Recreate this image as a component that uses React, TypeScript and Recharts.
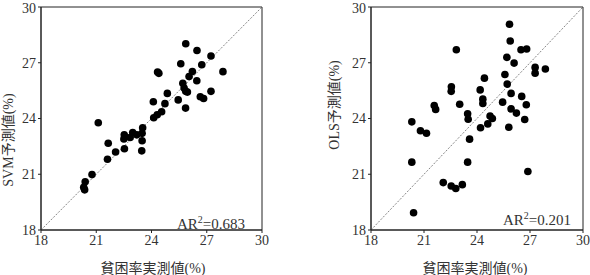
import { ScatterChart, Scatter, XAxis, YAxis, ReferenceLine, ReferenceArea } from 'recharts';

// 実測値 (x) / 予測値 (y)
const svmActual = [
  20.32, 20.37, 20.4, 20.77, 21.11, 21.65, 21.61, 22.05, 22.53, 22.52, 22.5, 22.84, 22.98, 23.2, 23.49,
  23.52, 23.49, 23.47, 24.12, 24.31, 24.55, 24.1, 24.73, 24.86, 24.33, 24.4, 25.45, 25.59, 25.86, 25.7,
  25.77, 25.86, 25.95, 25.85, 26.04, 26.22, 26.46, 26.47, 26.73, 26.65, 26.83, 27.23, 27.23, 27.88,
];
const svmPredicted = [
  20.3, 20.16, 20.6, 20.98, 23.77, 22.67, 21.81, 22.2, 22.37, 23.12, 22.9, 22.98, 23.25, 23.12, 23.2,
  23.5, 22.8, 22.26, 24.04, 24.2, 24.36, 24.9, 24.8, 25.35, 26.5, 26.43, 25.0, 26.95, 28.02, 25.9,
  25.64, 25.46, 25.42, 24.56, 26.26, 26.53, 26.03, 27.66, 26.89, 25.17, 25.08, 27.36, 25.46, 26.52,
];

const olsActual = [
  20.31, 20.31, 20.41, 20.8, 21.14, 21.58, 21.66, 22.09, 22.54, 22.8, 23.17, 22.55, 22.54, 22.83, 23.02,
  23.47, 23.5, 23.58, 23.47, 24.18, 24.33, 24.33, 24.42, 24.2, 24.61, 24.74, 24.87, 25.45, 25.58, 25.69,
  25.71, 25.84, 25.88, 25.93, 25.93, 25.8, 26.1, 26.23, 26.49, 26.81, 26.53, 26.79, 26.7, 26.88, 27.29,
  27.29, 27.87,
];
const olsPredicted = [
  23.82, 21.65, 18.93, 23.34, 23.21, 24.7, 24.49, 20.55, 20.37, 20.23, 20.44, 25.71, 25.46, 27.7, 24.77,
  24.25, 23.96, 22.89, 21.65, 25.54, 25.04, 24.81, 26.17, 23.5, 23.71, 24.13, 24.0, 24.88, 26.37, 27.29,
  25.85, 29.07, 28.17, 25.35, 24.52, 23.53, 26.98, 24.29, 27.7, 27.74, 25.19, 24.74, 23.95, 21.15, 26.75,
  26.44, 26.66,
];

const ticks = [18, 21, 24, 27, 30];

const serif = '"Liberation Serif", "Noto Sans CJK JP", serif';
const textColor = '#333';

function Dot(props: any) {
  return <circle cx={props.cx} cy={props.cy} r={3.8} fill="#000" />;
}

type PanelProps = {
  xs: number[];
  ys: number[];
  left: number;
  marginLeft: number;
  marginRight: number;
  yTitle: string;
  yTitleX: number;
  yTitleY: number;
  xTitleX: number;
  score: string;
  scoreX: number;
  scoreY: number;
};

function Panel({ xs, ys, left, marginLeft, marginRight, yTitle, yTitleX, yTitleY, xTitleX, score, scoreX, scoreY }: PanelProps) {
  const data = xs.map((x, i) => ({ x, y: ys[i] }));
  const tick = { fill: textColor, fontSize: 14, fontFamily: serif };
  return (
    <div style={{ position: 'absolute', left, top: 0, width: 290, height: 275 }}>
      <ScatterChart width={290} height={275} margin={{ top: 7, right: marginRight, left: marginLeft, bottom: 15 }}>
        <XAxis
          type="number"
          dataKey="x"
          domain={[18, 30]}
          ticks={ticks}
          tickSize={3}
          tick={tick}
          height={30}
          stroke="#222"
        />
        <YAxis
          type="number"
          dataKey="y"
          domain={[18, 30]}
          ticks={ticks}
          tickSize={3}
          tick={tick}
          width={30}
          stroke="#222"
        />
        <ReferenceArea x1={18} x2={30} y1={18} y2={30} fill="none" stroke="#222" strokeWidth={1} />
        <ReferenceLine
          segment={[{ x: 18, y: 18 }, { x: 30, y: 30 }]}
          stroke="#666"
          strokeWidth={0.8}
          strokeDasharray="2 1.5"
        />
        <Scatter data={data} shape={<Dot />} isAnimationActive={false} />
      </ScatterChart>
      <div
        style={{
          position: 'absolute',
          left: yTitleX,
          top: yTitleY,
          transform: 'translate(-50%, -50%) rotate(-90deg)',
          whiteSpace: 'nowrap',
          fontFamily: serif,
          fontSize: 14,
          color: textColor,
        }}
      >
        {yTitle}
      </div>
      <div
        style={{
          position: 'absolute',
          left: xTitleX,
          top: 267,
          transform: 'translate(-50%, -50%)',
          whiteSpace: 'nowrap',
          fontFamily: serif,
          fontSize: 14,
          color: textColor,
        }}
      >
        貧困率実測値(%)
      </div>
      <div
        style={{
          position: 'absolute',
          left: scoreX,
          top: scoreY,
          whiteSpace: 'nowrap',
          fontFamily: serif,
          fontSize: 15,
          lineHeight: '15px',
          color: textColor,
        }}
      >
        AR<sup style={{ fontSize: 10 }}>2</sup>=0.{score}
      </div>
    </div>
  );
}

export default function App() {
  return (
    <div style={{ position: 'absolute', left: 0, top: 0, width: 590, height: 275, background: '#fff' }}>
      <Panel
        xs={svmActual}
        ys={svmPredicted}
        left={0}
        marginLeft={11}
        marginRight={28}
        yTitle="SVM予測値(%)"
        yTitleX={7}
        yTitleY={140}
        xTitleX={153}
        score="683"
        scoreX={177}
        scoreY={212}
      />
      <Panel
        xs={olsActual}
        ys={olsPredicted}
        left={300}
        marginLeft={41}
        marginRight={7}
        yTitle="OLS予測値(%)"
        yTitleX={33}
        yTitleY={105}
        xTitleX={175}
        score="201"
        scoreX={203}
        scoreY={208}
      />
    </div>
  );
}
